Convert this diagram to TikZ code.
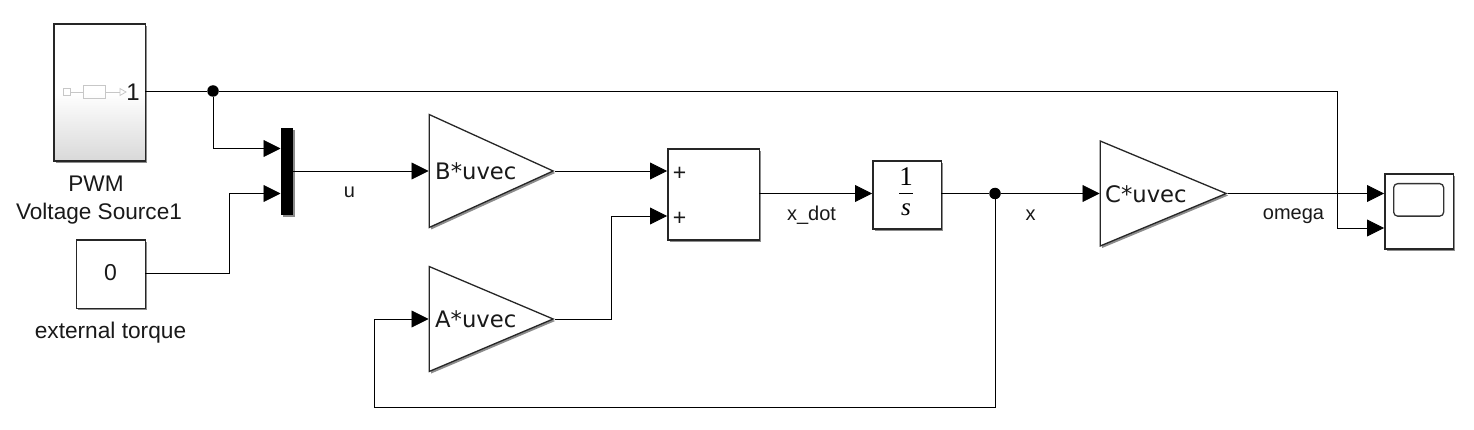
\documentclass[tikz,border=0pt]{standalone}
\usepackage{fontspec}
\setmainfont{Liberation Sans}
\newfontfamily\gainfont{DejaVu Sans}
\newfontfamily\mathfont{Liberation Serif}
\usetikzlibrary{arrows.meta,shapes.geometric,shadows,calc}
\tikzset{
  x=1pt,y=-1pt,
  myshadow/.style={drop shadow={shadow xshift=2pt,shadow yshift=-2pt,fill=black,opacity=.45}},
  blockbox/.style={draw=black!85,line width=1.6pt,fill=white,inner sep=0pt,myshadow},
  gainblock/.style={isosceles triangle,isosceles triangle stretches,shape border rotate=0,
    draw=black!85,line width=1.3pt,fill=white,inner sep=0pt,anchor=lower side,
    minimum height=124pt,myshadow},
  wire/.style={line width=.85pt,black},
  sig/.style={wire,-{Triangle[length=17pt,width=17pt]}},
  lbl/.style={font=\fontsize{20}{24}\selectfont,inner sep=0pt,text=black!90},
  gaintxt/.style={font=\gainfont\fontsize{22.7}{26}\selectfont,inner sep=0pt,anchor=west,text=black!90},
  dotj/.style={circle,fill=black,inner sep=0pt,minimum size=11.5pt},
}
\begin{document}
\begin{tikzpicture}
\useasboundingbox (0,0) rectangle (1474,430);
\fill[white] (0,0) rectangle (1474,430);
% PWM subsystem
\node[blockbox,minimum width=91.5pt,minimum height=136.5pt,anchor=north west,
  top color=white,bottom color=black!15,middle color=white,shading angle=0] (pwm) at (53,23.5) {};
\coordinate (pwmout) at (145,91);
\node[draw=black!22,line width=.8pt,minimum width=7pt,minimum height=7pt,inner sep=0pt] (pi) at (66.5,92) {};
\node[draw=black!22,line width=.8pt,minimum width=22pt,minimum height=13pt,inner sep=0pt] (pb) at (94.5,92) {};
\node[regular polygon,regular polygon sides=3,shape border rotate=-90,draw=black!22,line width=.8pt,inner sep=0pt,minimum size=8pt] (pt) at (122,92) {};
\draw[black!22,line width=.8pt] (pi) -- (pb);
\draw[black!22,line width=.8pt] (pb) -- (pt);
\node[lbl,font=\fontsize{24}{26}\selectfont] (pn) at (133,92.5) {1};
\node[lbl,align=center,font=\fontsize{22.6}{28}\selectfont] (pwmlab) at (99,200.5) {PWM\hspace{6pt}\mbox{}\\Voltage Source1};
% Constant
\node[blockbox,minimum width=69pt,minimum height=68pt,anchor=north west] (const) at (75.5,239.5) {};
\node[lbl,font=\fontsize{23}{26}\selectfont] (c0) at (110.5,273) {0};
\node[lbl,font=\fontsize{22.7}{26}\selectfont] (clab) at (110.5,332.5) {external torque};
% Mux
\node[fill=black,minimum width=12pt,minimum height=87.5pt,inner sep=0pt,anchor=north west,myshadow] (mux) at (280.5,127.5) {};
\coordinate (muxa) at (280.5,148.5);
\coordinate (muxb) at (280.5,193.5);
\coordinate (muxo) at (293,171);
% Gains
\node[gainblock,minimum width=113pt] (gb) at (428.5,171) {};
\node[gainblock,minimum width=105pt] (ga) at (428.5,319) {};
\node[gainblock,minimum width=105pt,minimum height=126pt] (gc) at (1099.5,193.5) {};
\node[gaintxt] (tb) at (435,171) {B*uvec};
\node[gaintxt] (ta) at (435,319) {A*uvec};
\node[gaintxt] (tc) at (1105,194) {C*uvec};
% Sum
\node[blockbox,minimum width=91.5pt,minimum height=91pt,anchor=north west] (sum) at (667,148.5) {};
\coordinate (suma) at (667,171);
\coordinate (sumb) at (667,216);
\node[lbl,font=\fontsize{23}{26}\selectfont] (pa) at (679.5,173.5) {+};
\node[lbl,font=\fontsize{23}{26}\selectfont] (pc) at (679.5,218.5) {+};
% Integrator
\node[blockbox,minimum width=68.5pt,minimum height=68pt,anchor=north west] (int) at (872,160) {};
\node[font=\mathfont\fontsize{27}{28}\selectfont,inner sep=0pt] (i1) at (906,176.5) {1};
\draw[line width=1.2pt,black] (899,193.5) -- (913,193.5);
\node[font=\mathfont\itshape\fontsize{25}{28}\selectfont,inner sep=0pt] (i2) at (906,210) {s};
% Scope
\node[blockbox,minimum width=68.5pt,minimum height=74.5pt,anchor=north west] (scope) at (1384,173.5) {};
\node[draw=black!80,line width=1.3pt,rounded corners=4pt,minimum width=50pt,minimum height=32.5pt,inner sep=0pt,anchor=north west] (screen) at (1393,183) {};
\coordinate (scopea) at (1384,193.5);
\coordinate (scopeb) at (1384,228);
% Junctions
\node[dotj] (j1) at (213,91) {};
\node[dotj] (j2) at (995,193.5) {};
% Corner helpers
\coordinate (c1) at (213,148.5);
\coordinate (c2) at (229.5,273);
\coordinate (c3) at (229.5,193.5);
\coordinate (c4) at (611,319);
\coordinate (c5) at (611,216);
\coordinate (c6) at (995,407);
\coordinate (c7) at (374,407);
\coordinate (c8) at (374,319);
\coordinate (c9) at (1337,91);
\coordinate (c10) at (1337,228);
\coordinate (constout) at (145,273);
\coordinate (sumo) at (759,193.5);
\coordinate (inti) at (872,193.5);
\coordinate (into) at (941,193.5);
% Wires
\draw[wire] (pwmout) -- (j1);
\draw[sig] (j1) -- (c1) -- (muxa);
\draw[sig] (constout) -- (c2) -- (c3) -- (muxb);
\draw[sig] (muxo) -- (gb.lower side);
\draw[sig] (gb.apex) -- (suma);
\draw[sig] (ga.apex) -- (c4) -- (c5) -- (sumb);
\draw[sig] (sumo) -- (inti);
\draw[wire] (into) -- (j2);
\draw[sig] (j2) -- (gc.lower side);
\draw[sig] (j2) -- (c6) -- (c7) -- (c8) -- (ga.lower side);
\draw[sig] (gc.apex) -- (scopea);
\draw[sig] (j1) -- (c9) -- (c10) -- (scopeb);
% Signal labels
\node[lbl] (lu) at (349.5,192.5) {u};
\node[lbl] (lx) at (811.5,215) {x\_dot};
\node[lbl] (lxx) at (1030.5,215) {x};
\node[lbl] (lo) at (1293.5,216) {omega};
\end{tikzpicture}
\end{document}
